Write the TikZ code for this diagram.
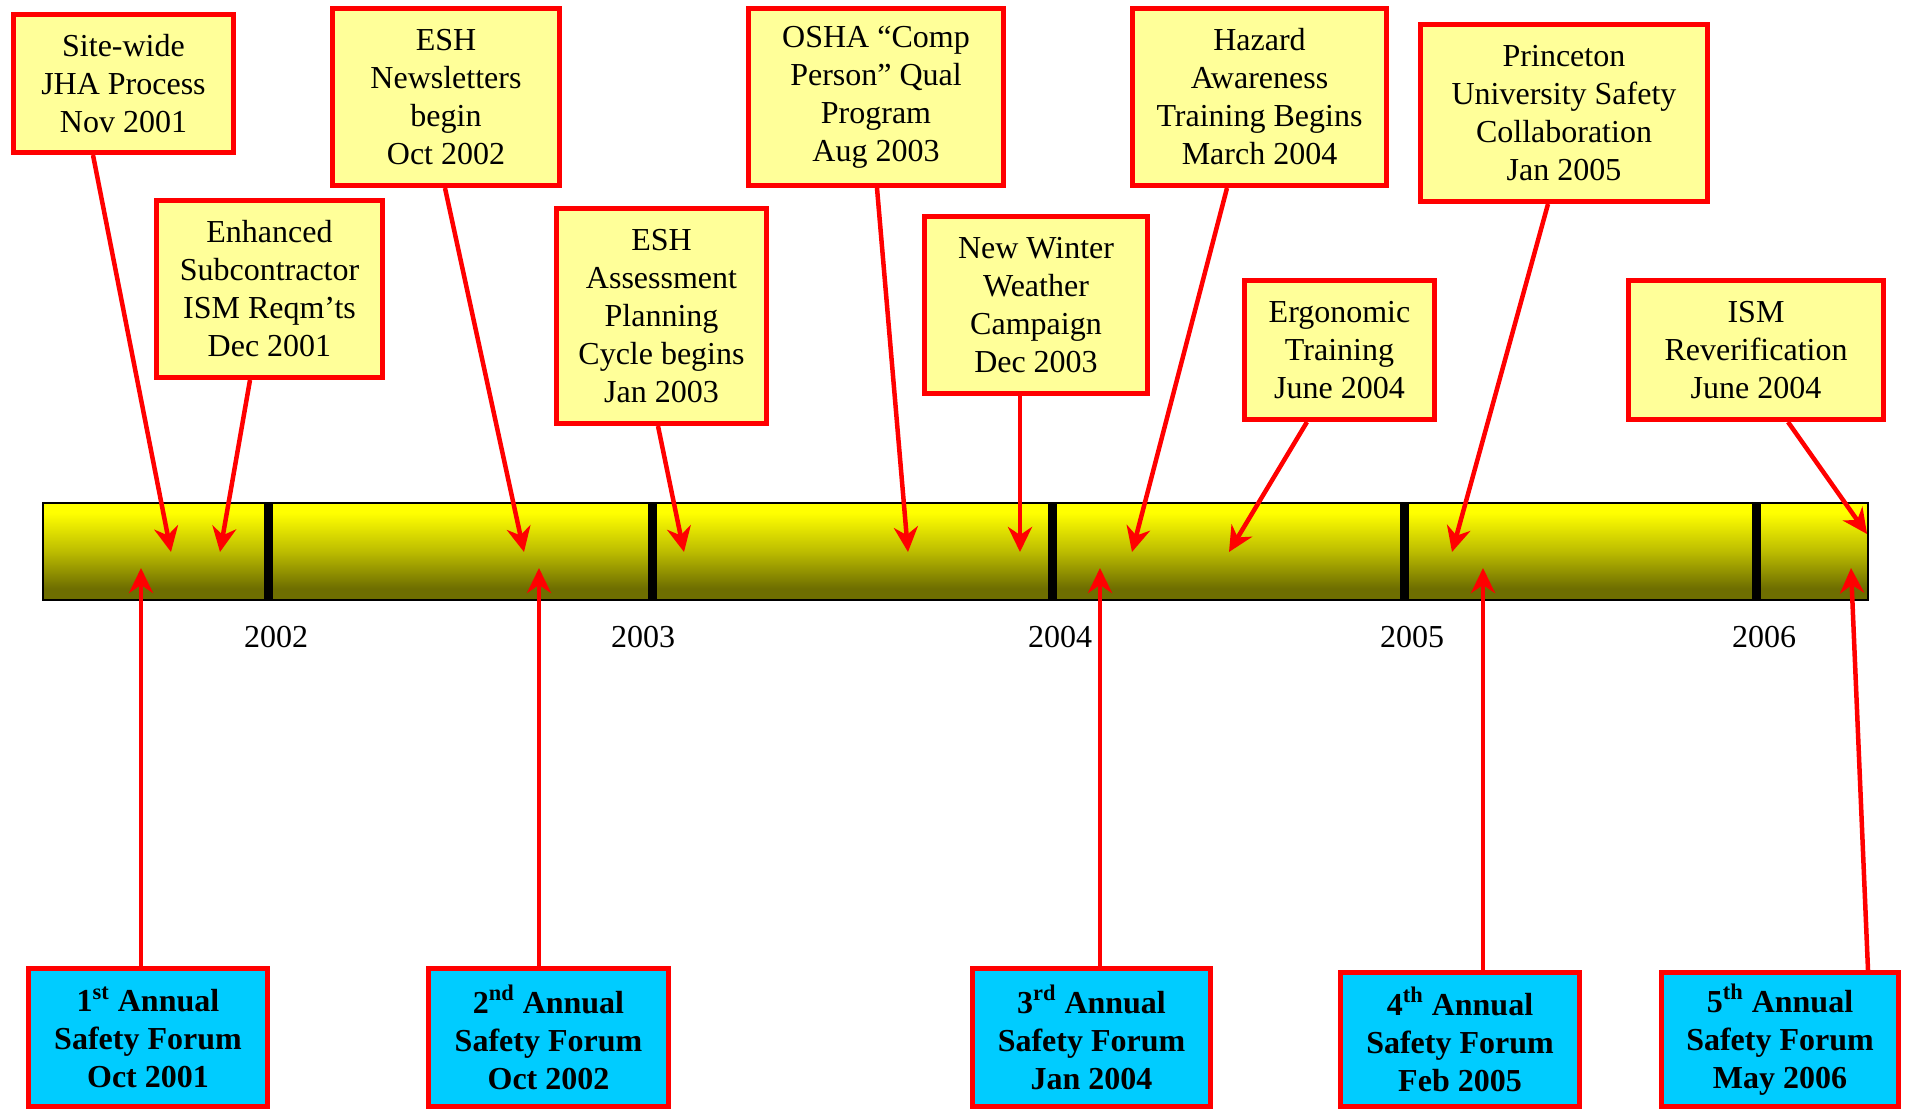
\documentclass[tikz,border=0pt]{standalone}
\usepackage{fontspec}
\setmainfont{Liberation Serif}
\usetikzlibrary{arrows.meta}
\definecolor{boxyellow}{HTML}{FFFF99}
\definecolor{forumcyan}{HTML}{00CCFF}
\definecolor{linered}{HTML}{FF0000}
\definecolor{barolive}{HTML}{6E6E00}
\definecolor{barmid}{HTML}{BCBC00}
\pgfdeclareverticalshading{barshade}{100bp}{color(0bp)=(barolive); color(25bp)=(barolive); color(31bp)=(barolive); color(50bp)=(barmid); color(70bp)=(yellow); color(100bp)=(yellow)}
\begin{document}
\begin{tikzpicture}[x=0.5pt,y=-0.5pt,
  evbox/.style={draw=linered, line width=2.5pt, fill=boxyellow, inner sep=0pt, align=center, font=\fontsize{16}{19}\selectfont},
  forumbox/.style={draw=linered, line width=2.5pt, fill=forumcyan, inner sep=0pt, align=center, font=\fontsize{16}{19}\selectfont\bfseries},
  arr/.style={draw=linered, line width=2.25pt, -{Stealth[length=12.5pt,width=12pt,inset=4pt]}},
  yearlbl/.style={font=\fontsize{16}{19}\selectfont, inner sep=0pt},
  tickbar/.style={line width=4.5pt, draw=black}]
\useasboundingbox (0,0) rectangle (1907,1109);
\clip (0,0) rectangle (1907,1109);
\fill[white] (0,0) rectangle (1907,1109);

% timeline bar
\draw[line width=1pt, shading=barshade] (43,503) rectangle (1868,600);
\foreach \tx in {268,652,1052,1404,1756} \draw[tickbar] (\tx,503) -- (\tx,600);

% year labels
\node[yearlbl] (y2002) at (276,637) {2002};
\node[yearlbl] (y2003) at (643,637) {2003};
\node[yearlbl] (y2004) at (1060,637) {2004};
\node[yearlbl] (y2005) at (1412,637) {2005};
\node[yearlbl] (y2006) at (1764,637) {2006};

% event boxes
\node[evbox, minimum width=110pt, minimum height=69pt] (sw) at (123.5,83.5) {Site-wide\\JHA Process\\Nov 2001};
\node[evbox, minimum width=113pt, minimum height=88.5pt] (enh) at (269.5,289) {Enhanced\\Subcontractor\\ISM Reqm’ts\\Dec 2001};
\node[evbox, minimum width=113.5pt, minimum height=88.5pt] (news) at (446,97) {ESH\\Newsletters\\begin\\Oct 2002};
\node[evbox, minimum width=105pt, minimum height=107.5pt] (assess) at (661.5,316) {ESH\\Assessment\\Planning\\Cycle begins\\Jan 2003};
\node[evbox, minimum width=127.5pt, minimum height=88.5pt] (osha) at (876,97) {OSHA “Comp\\Person” Qual\\Program\\Aug 2003};
\node[evbox, minimum width=111.5pt, minimum height=88.5pt] (winter) at (1036,305) {New Winter\\Weather\\Campaign\\Dec 2003};
\node[evbox, minimum width=127pt, minimum height=88.5pt] (hazard) at (1259.5,97) {Hazard\\Awareness\\Training Begins\\March 2004};
\node[evbox, minimum width=95pt, minimum height=69.5pt] (ergo) at (1339.5,350) {Ergonomic\\Training\\June 2004};
\node[evbox, minimum width=143.5pt, minimum height=88.5pt] (princ) at (1564,113) {Princeton\\University Safety\\Collaboration\\Jan 2005};
\node[evbox, minimum width=127.5pt, minimum height=69.5pt] (ism) at (1756,350) {ISM\\Reverification\\June 2004};

% forum boxes
\node[forumbox, minimum width=119.5pt, minimum height=69pt] (f1) at (148,1037.5) {1\textsuperscript{st} Annual\\Safety Forum\\Oct 2001};
\node[forumbox, minimum width=120pt, minimum height=69pt] (f2) at (548.5,1037.5) {2\textsuperscript{nd} Annual\\Safety Forum\\Oct 2002};
\node[forumbox, minimum width=119pt, minimum height=69pt] (f3) at (1091.5,1037.5) {3\textsuperscript{rd} Annual\\Safety Forum\\Jan 2004};
\node[forumbox, minimum width=119.5pt, minimum height=67pt] (f4) at (1460,1039.5) {4\textsuperscript{th} Annual\\Safety Forum\\Feb 2005};
\node[forumbox, minimum width=118.5pt, minimum height=67pt] (f5) at (1780,1039.5) {5\textsuperscript{th} Annual\\Safety Forum\\May 2006};

% arrow tip coordinates
\coordinate (t-sw) at (171,552);
\coordinate (t-enh) at (220,552);
\coordinate (t-news) at (524,552);
\coordinate (t-assess) at (684,552);
\coordinate (t-osha) at (908,552);
\coordinate (t-winter) at (1020,552);
\coordinate (t-hazard) at (1132,552);
\coordinate (t-ergo) at (1229,552);
\coordinate (t-princ) at (1452,552);
\coordinate (t-ism) at (1867,534);
\coordinate (b1) at (141,568);
\coordinate (b2) at (539,568);
\coordinate (b3) at (1100,568);
\coordinate (b4) at (1483,568);
\coordinate (b5) at (1851,568);

% connectors
\draw[arr] ([xshift=-15.25pt]sw.south) -- (t-sw);
\draw[arr] ([xshift=-9.75pt]enh.south) -- (t-enh);
\draw[arr] ([xshift=-0.5pt]news.south) -- (t-news);
\draw[arr] ([xshift=-1.75pt]assess.south) -- (t-assess);
\draw[arr] ([xshift=0.5pt]osha.south) -- (t-osha);
\draw[arr] ([xshift=-8pt]winter.south) -- (t-winter);
\draw[arr] ([xshift=-16.25pt]hazard.south) -- (t-hazard);
\draw[arr] ([xshift=-16.25pt]ergo.south) -- (t-ergo);
\draw[arr] ([xshift=-8pt]princ.south) -- (t-princ);
\draw[arr] ([xshift=16pt]ism.south) -- (t-ism);
\draw[arr] ([xshift=-3.5pt]f1.north) -- (b1);
\draw[arr] ([xshift=-4.75pt]f2.north) -- (b2);
\draw[arr] ([xshift=4.25pt]f3.north) -- (b3);
\draw[arr] ([xshift=11.5pt]f4.north) -- (b4);
\draw[arr] ([xshift=44pt]f5.north) -- (b5);
\end{tikzpicture}
\end{document}
